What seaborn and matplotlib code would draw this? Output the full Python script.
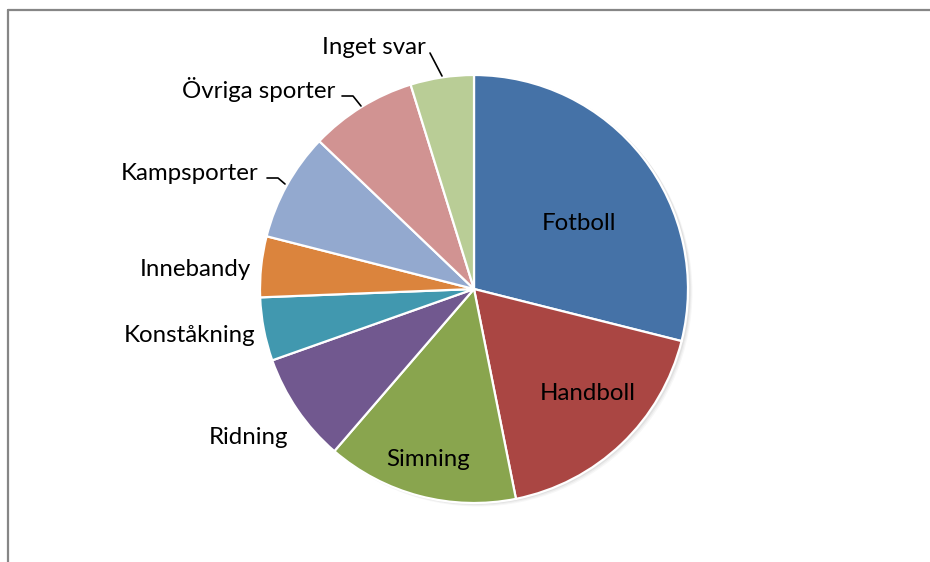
import matplotlib
matplotlib.use("Agg")
import matplotlib.pyplot as plt
import seaborn as sns
from matplotlib.lines import Line2D

# Sport categories and their shares (%)
sports = ["Fotboll", "Handboll", "Simning", "Ridning", "Konståkning",
          "Innebandy", "Kampsporter", "Övriga sporter", "Inget svar"]
shares = [29.0, 18.0, 14.5, 8.3, 4.8, 4.6, 8.2, 8.1, 4.8]
colors = ["#4572A7", "#AA4643", "#89A54E", "#71588F", "#4198AF",
          "#DB843D", "#93A9CF", "#D19392", "#B9CD96"]

sns.set_theme(style="white")
plt.rcParams["font.family"] = ["Lato", "DejaVu Sans"]

W, H = 930, 562
fig = plt.figure(figsize=(W / 100, H / 100), dpi=100)
ax = fig.add_axes([0, 0, 1, 1])

cx, cy, r = 474, H - 289, 214

# soft shadow on the lower right of the pie
for i, a in enumerate([0.05, 0.04, 0.03]):
    ax.add_patch(plt.Circle((cx + 2 + i, cy - 1 - i), r + 0.5, color="black",
                            alpha=a, lw=0, zorder=0))

ax.pie(shares, colors=colors, startangle=90, counterclock=False,
       center=(cx, cy), radius=r, frame=True,
       wedgeprops=dict(edgecolor="white", linewidth=1.6, zorder=1))
ax.set_xlim(0, W)
ax.set_ylim(0, H)
ax.set_aspect("equal")
ax.axis("off")

# label placement (pixel coordinates, y measured from the top)
label_pos = {
    "Fotboll": (579, 223), "Handboll": (588, 394), "Simning": (428, 459),
    "Ridning": (248, 438), "Konståkning": (190, 336), "Innebandy": (195, 269),
    "Kampsporter": (190, 173), "Övriga sporter": (259, 89), "Inget svar": (374, 48),
}
for name in sports:
    x, y = label_pos[name]
    ax.text(x, H - y, name, ha="center", va="center", fontsize=17.3,
            color="black", zorder=5)

# leader lines for the small outer labels
leaders = [
    [(430, 53), (442, 76)],
    [(342, 96), (353, 96), (361, 106)],
    [(267, 178), (278, 178), (285, 184)],
]
for pts in leaders:
    xs = [p[0] for p in pts]
    ys = [H - p[1] for p in pts]
    ax.add_line(Line2D(xs, ys, color="black", lw=1.2, zorder=5))

# chart-area frame (only top and left edges fall inside the image)
ax.add_line(Line2D([7.5, W + 5], [H - 9.5, H - 9.5], color="#868686", lw=1.6))
ax.add_line(Line2D([7.5, 7.5], [H - 9.5, -5], color="#868686", lw=1.6))

fig.savefig("out.png", dpi=100, facecolor="white")
